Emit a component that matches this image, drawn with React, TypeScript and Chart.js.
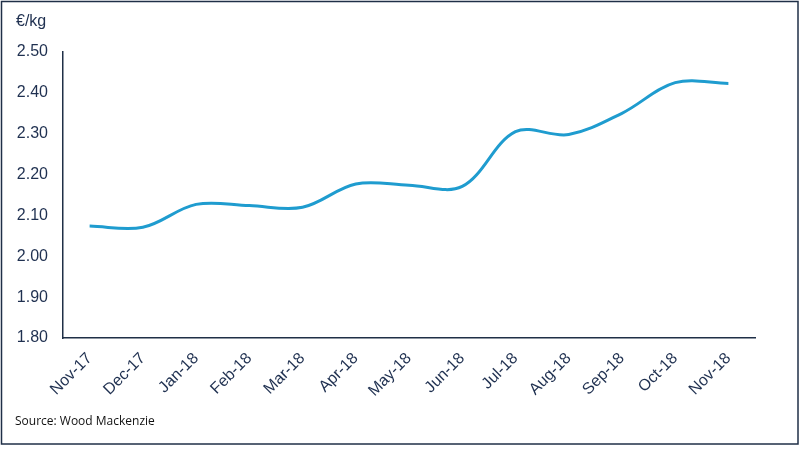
import React, { useEffect, useRef } from "react";
import { Chart, registerables } from "chart.js";

Chart.register(...registerables);

const categories = [
  "Nov-17", "Dec-17", "Jan-18", "Feb-18", "Mar-18", "Apr-18", "May-18",
  "Jun-18", "Jul-18", "Aug-18", "Sep-18", "Oct-18", "Nov-18",
];
const prices = [
  2.074, 2.071, 2.127, 2.124, 2.12, 2.177, 2.174, 2.171, 2.305, 2.298, 2.35, 2.425, 2.423,
];
const yMin = 1.8;
const yMax = 2.5;
const yStep = 0.1;
const unitLabel = "€/kg";
const sourceLabel = "Source: Wood Mackenzie";

const NAVY = "#1f2f47";
const TEXT = "#1f3050";
const LINE = "#1f9ccf";

export default function App() {
  const ref = useRef<HTMLCanvasElement | null>(null);

  useEffect(() => {
    document.body.style.margin = "0";
    const canvas = ref.current;
    if (!canvas) return;

    const framePlugin = {
      id: "frame",
      afterDraw(chart: any) {
        const ctx = chart.ctx;
        ctx.save();
        ctx.strokeStyle = NAVY;
        ctx.lineWidth = 1.5;
        ctx.strokeRect(1.5, 1.5, 796.5, 442.5);
        ctx.fillStyle = TEXT;
        ctx.font = "16px 'Liberation Sans', Arial, sans-serif";
        ctx.textBaseline = "middle";
        ctx.textAlign = "left";
        ctx.fillText(unitLabel, 16, 22);
        ctx.fillStyle = "#111";
        ctx.font = "12px 'Open Sans', 'Noto Sans', sans-serif";
        ctx.fillText(sourceLabel, 15, 422);
        ctx.restore();
      },
    };

    const chart = new Chart(canvas, {
      type: "line",
      data: {
        labels: categories,
        datasets: [
          {
            data: prices,
            borderColor: LINE,
            borderWidth: 3,
            pointRadius: 0,
            tension: 0.35,
            fill: false,
          },
        ],
      },
      options: {
        animation: false,
        responsive: false,
        maintainAspectRatio: false,
        layout: { padding: { left: 0, top: 52, right: 48, bottom: 0 } },
        plugins: { legend: { display: false }, tooltip: { enabled: false } },
        scales: {
          x: {
            offset: true,
            grid: { display: false, drawTicks: false },
            border: { display: true, color: NAVY, width: 1.5 },
            ticks: {
              color: TEXT,
              font: { family: "'Liberation Sans', Arial, sans-serif", size: 16 },
              maxRotation: 45,
              minRotation: 45,
              autoSkip: false,
              padding: 11,
            },
            afterFit(scale: any) {
              scale.height = 116;
            },
          },
          y: {
            min: yMin,
            max: yMax,
            grid: { display: false, drawTicks: false },
            border: { display: true, color: NAVY, width: 1.5 },
            ticks: {
              stepSize: yStep,
              color: TEXT,
              font: { family: "'Liberation Sans', Arial, sans-serif", size: 16 },
              padding: 15,
              callback: (v: any) => Number(v).toFixed(2),
            },
            afterFit(scale: any) {
              scale.width = 63;
            },
          },
        },
      },
      plugins: [framePlugin],
    });

    return () => chart.destroy();
  }, []);

  return (
    <div style={{ width: 803, height: 454, background: "#fff" }}>
      <canvas ref={ref} width={803} height={454} style={{ display: "block" }} />
    </div>
  );
}
